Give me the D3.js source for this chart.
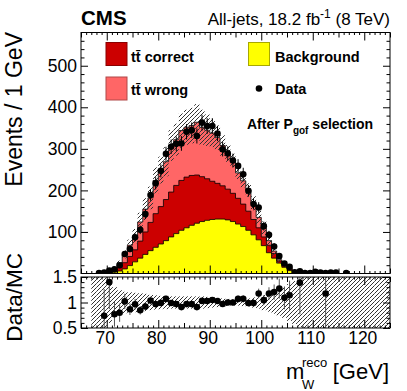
<!DOCTYPE html>
<html>
<head>
<meta charset="utf-8">
<script src="https://cdn.jsdelivr.net/npm/d3@7"></script>
<style>
body { margin: 0; background: #fff; }
text { font-family: "Liberation Sans", Arial, Helvetica, sans-serif; }
</style>
</head>
<body>
<svg width="407" height="391"></svg>
<script>
// MC bins, 1 GeV wide, low edges
var binLow = [67, 68, 69, 70, 71, 72, 73, 74, 75, 76, 77, 78, 79, 80, 81, 82, 83, 84, 85, 86, 87, 88, 89,
	90, 91, 92, 93, 94, 95, 96, 97, 98, 99, 100, 101, 102, 103, 104, 105, 106, 107, 108, 109, 110, 111, 112];
var background = [0, 0, 1, 2, 3.5, 6, 11, 19, 28, 37, 46, 55, 63, 71, 79, 88, 96, 104, 110, 116, 121, 125, 128,
	130, 131, 131, 129, 125, 119, 113, 104, 93, 81, 67, 50, 37, 25, 15, 7, 3, 1, 0, 0, 0, 0, 0.85];
var ttCorrect = [0, 0, 0.8, 1.5, 4, 8, 15, 22, 29, 41, 54, 68, 81, 90, 99, 108, 116, 120, 122, 120, 116, 108, 100,
	92, 86, 80, 74, 68, 62, 54, 46, 37, 29, 21, 18, 11, 5, 4, 4, 2, 1, 0, 0, 0, 0, 0];
var ttWrong = [0, 0, 0.9, 1.5, 5.5, 11, 20, 27, 33, 46, 55, 59, 80, 88, 91, 112, 110, 120, 120, 120, 127, 119, 117,
	116, 110, 97, 86, 79, 61, 56, 51, 39, 25, 21, 11, 6, 3, 3, 3, 2, 1.6, 0, 0, 0, 0, 0];
// relative MC uncertainty (bins past the list are drawn full)
var mcRelErr = [1, 1, 0.6, 0.4, 0.3, 0.24, 0.21, 0.2, 0.19, 0.18, 0.17, 0.15, 0.14, 0.13, 0.13, 0.12, 0.12,
	0.12, 0.12, 0.12, 0.12, 0.12, 0.11, 0.1, 0.09, 0.08, 0.07, 0.06, 0.06, 0.07, 0.08, 0.1, 0.12, 0.15, 0.18,
	0.22, 0.26, 0.3, 0.36, 0.42, 0.48];

var dataX = [68.5, 69.5, 70.5, 71.5, 72.5, 73.5, 74.5, 75.5, 76.5, 77.5, 78.5, 79.5, 80.5, 81.5, 82.5, 83.5,
	84.5, 85.5, 86.5, 87.5, 88.5, 89.5, 90.5, 91.5, 92.5, 93.5, 94.5, 95.5, 96.5, 97.5, 98.5, 99.5, 100.5,
	101.5, 102.5, 103.5, 104.5, 105.5, 106.5, 107.5, 108.5, 109.5, 110.5, 111.5, 112.5, 113.5, 114.5, 116.5];
var dataY = [1, 2, 7, 10, 20, 47, 59, 87, 105, 143, 189, 217, 247, 288, 305, 312,
	313, 341, 345, 331, 363, 355, 355, 337, 299, 289, 272, 259, 239, 199, 167, 159, 114,
	93, 65, 42, 24, 16, 3, 5, 1, 1, 4, 2, 1, 2, 2, 1];

var xTicks = [70, 80, 90, 100, 110, 120];
var yTicks = [100, 200, 300, 400, 500];
var ratioTicks = [0.5, 1, 1.5];

var svg = d3.select('svg');
var padL = 81, padR = 390, mainTop = 32.5, mainBottom = 273.5, ratioTop = 277, ratioBottom = 328;

var x = d3.scaleLinear().domain([65, 125]).range([padL, padR]);
var y = d3.scaleLinear().domain([0, 580]).range([mainBottom, mainTop]);
var yr = d3.scaleLinear().domain([0.5, 1.5]).range([ratioBottom, ratioTop]);

var defs = svg.append('defs');
defs.append('pattern')
	.attr('id', 'hatch')
	.attr('patternUnits', 'userSpaceOnUse')
	.attr('width', 4).attr('height', 4)
	.append('path')
	.attr('d', 'M-1,1L1,-1M0,4L4,0M3,5L5,3')
	.attr('stroke', '#333')
	.attr('stroke-width', 1);
defs.append('clipPath').attr('id', 'clipMain').append('rect')
	.attr('x', padL).attr('y', mainTop).attr('width', padR - padL).attr('height', mainBottom - mainTop);
defs.append('clipPath').attr('id', 'clipRatio').append('rect')
	.attr('x', padL).attr('y', ratioTop).attr('width', padR - padL).attr('height', ratioBottom - ratioTop);

// stacked sums
var s1 = background.slice();
var s2 = background.map(function (v, i) { return v + ttCorrect[i]; });
var s3 = s2.map(function (v, i) { return v + ttWrong[i]; });

function steps(vals) {
	var pts = [];
	vals.forEach(function (v, i) {
		pts.push([binLow[i], v]);
		pts.push([binLow[i] + 1, v]);
	});
	return pts;
}

var area = d3.area()
	.x(function (d) { return x(d[0]); })
	.y0(y(0))
	.y1(function (d) { return y(d[1]); });
var line = d3.line()
	.x(function (d) { return x(d[0]); })
	.y(function (d) { return y(d[1]); });

var main = svg.append('g').attr('clip-path', 'url(#clipMain)');

[[s3, '#ff6666'], [s2, '#cc0000'], [s1, '#ffff00']].forEach(function (h) {
	main.append('path').attr('d', area(steps(h[0]))).attr('fill', h[1]);
});
[s3, s2, s1].forEach(function (h) {
	main.append('path').attr('d', line(steps(h))).attr('fill', 'none')
		.attr('stroke', '#000').attr('stroke-width', 0.8);
});

// MC uncertainty band
main.selectAll('rect.band')
	.data(binLow.filter(function (b, i) { return s3[i] > 0 && i < mcRelErr.length; }))
	.enter()
	.append('rect')
	.attr('class', 'band')
	.attr('x', function (b) { return x(b); })
	.attr('width', function (b) { return x(b + 1) - x(b); })
	.attr('y', function (b) {
		var i = binLow.indexOf(b);
		return y(s3[i] * (1 + mcRelErr[i]));
	})
	.attr('height', function (b) {
		var i = binLow.indexOf(b);
		return y(s3[i] * (1 - Math.min(mcRelErr[i], 1))) - y(s3[i] * (1 + mcRelErr[i]));
	})
	.attr('fill', 'url(#hatch)');

// data
var data = dataX.map(function (c, i) { return { x: c, y: dataY[i] }; });
main.selectAll('line.err')
	.data(data)
	.enter()
	.append('line')
	.attr('x1', function (d) { return x(d.x); })
	.attr('x2', function (d) { return x(d.x); })
	.attr('y1', function (d) { return y(d.y + Math.sqrt(d.y)); })
	.attr('y2', function (d) { return y(Math.max(0, d.y - Math.sqrt(d.y))); })
	.attr('stroke', '#000').attr('stroke-width', 1);
main.selectAll('circle.pt')
	.data(data)
	.enter()
	.append('circle')
	.attr('cx', function (d) { return x(d.x); })
	.attr('cy', function (d) { return y(d.y); })
	.attr('r', 3.3)
	.attr('fill', '#000');

// ratio panel
var ratio = svg.append('g').attr('clip-path', 'url(#clipRatio)');
var bandBins = d3.range(67, 125);
function isFull(b) {
	var i = binLow.indexOf(b);
	return i < 0 || i >= mcRelErr.length || s3[i] === 0 || mcRelErr[i] >= 0.5;
}
ratio.selectAll('rect.rband')
	.data(bandBins)
	.enter()
	.append('rect')
	.attr('x', function (b) { return x(b); })
	.attr('width', function (b) { return x(b + 1) - x(b); })
	.attr('y', function (b) {
		return isFull(b) ? yr(1.5) : yr(1 + mcRelErr[binLow.indexOf(b)]);
	})
	.attr('height', function (b) {
		var r = mcRelErr[binLow.indexOf(b)];
		return isFull(b) ? yr(0.5) - yr(1.5) : yr(1 - r) - yr(1 + r);
	})
	.attr('fill', 'url(#hatch)');

var ratioPts = data.map(function (d) {
	var i = binLow.indexOf(d.x - 0.5);
	var mc = i < 0 ? 0 : s3[i];
	return mc > 0 ? { x: d.x, r: d.y / mc, e: Math.sqrt(d.y) / mc } : null;
}).filter(function (d) { return d && d.r >= 0.5 && d.r <= 1.5; });

ratio.selectAll('line.rerr')
	.data(ratioPts)
	.enter()
	.append('line')
	.attr('x1', function (d) { return x(d.x); })
	.attr('x2', function (d) { return x(d.x); })
	.attr('y1', function (d) { return yr(d.r + d.e); })
	.attr('y2', function (d) { return yr(d.r - d.e); })
	.attr('stroke', '#555').attr('stroke-width', 1);
ratio.selectAll('circle.rpt')
	.data(ratioPts)
	.enter()
	.append('circle')
	.attr('cx', function (d) { return x(d.x); })
	.attr('cy', function (d) { return yr(d.r); })
	.attr('r', 3.3)
	.attr('fill', '#000');

// axes
function clean(g, size) {
	g.select('.domain').remove();
	g.selectAll('text').style('font-size', size + 'px').style('font-family', '"Liberation Sans", Arial, sans-serif').attr('fill', '#000');
	g.selectAll('line').attr('stroke', '#000');
}
var minorY = d3.range(20, 580, 20).filter(function (v) { return v % 100 !== 0; });
var minorX = d3.range(66, 126, 1).filter(function (v) { return v % 5 !== 0; });
var midX = [65, 75, 85, 95, 105, 115, 125];

svg.append('g').attr('transform', 'translate(' + padL + ',0)')
	.call(d3.axisLeft(y).tickValues(yTicks).tickSize(-7).tickPadding(4))
	.call(clean, 17.5);
svg.append('g').attr('transform', 'translate(' + padL + ',0)')
	.call(d3.axisLeft(y).tickValues(minorY).tickSize(-3.5).tickFormat(''))
	.call(clean, 1);
svg.append('g').attr('transform', 'translate(' + padR + ',0)')
	.call(d3.axisRight(y).tickValues(yTicks).tickSize(-7).tickFormat(''))
	.call(clean, 1);
svg.append('g').attr('transform', 'translate(' + padR + ',0)')
	.call(d3.axisRight(y).tickValues(minorY).tickSize(-3.5).tickFormat(''))
	.call(clean, 1);

[[mainBottom, ratioBottom, d3.axisBottom], [mainTop, ratioTop, d3.axisTop]].forEach(function (p) {
	[p[0], p[1]].forEach(function (yy) {
		svg.append('g').attr('transform', 'translate(0,' + yy + ')')
			.call(p[2](x).tickValues(xTicks).tickSize(-8).tickFormat(''))
			.call(clean, 1);
		svg.append('g').attr('transform', 'translate(0,' + yy + ')')
			.call(p[2](x).tickValues(midX).tickSize(-5).tickFormat(''))
			.call(clean, 1);
		svg.append('g').attr('transform', 'translate(0,' + yy + ')')
			.call(p[2](x).tickValues(minorX).tickSize(-2.5).tickFormat(''))
			.call(clean, 1);
	});
});

svg.append('g').attr('transform', 'translate(-2,' + ratioBottom + ')')
	.call(d3.axisBottom(x).tickValues(xTicks).tickSize(0).tickPadding(4).tickFormat(d3.format('d')))
	.call(clean, 17.5);

var minorR = [0.6, 0.7, 0.8, 0.9, 1.1, 1.2, 1.3, 1.4];
svg.append('g').attr('transform', 'translate(' + padL + ',0)')
	.call(d3.axisLeft(yr).tickValues(ratioTicks).tickSize(-7).tickPadding(4).tickFormat(d3.format('')))
	.call(clean, 17.5);
svg.append('g').attr('transform', 'translate(' + padL + ',0)')
	.call(d3.axisLeft(yr).tickValues(minorR).tickSize(-3.5).tickFormat(''))
	.call(clean, 1);
svg.append('g').attr('transform', 'translate(' + padR + ',0)')
	.call(d3.axisRight(yr).tickValues(ratioTicks).tickSize(-7).tickFormat(''))
	.call(clean, 1);
svg.append('g').attr('transform', 'translate(' + padR + ',0)')
	.call(d3.axisRight(yr).tickValues(minorR).tickSize(-3.5).tickFormat(''))
	.call(clean, 1);

// frames
svg.append('rect').attr('x', padL).attr('y', mainTop).attr('width', padR - padL).attr('height', mainBottom - mainTop)
	.attr('fill', 'none').attr('stroke', '#000').attr('stroke-width', 1);
svg.append('rect').attr('x', padL).attr('y', ratioTop).attr('width', padR - padL).attr('height', ratioBottom - ratioTop)
	.attr('fill', 'none').attr('stroke', '#000').attr('stroke-width', 1);

// titles
svg.append('text')
	.attr('transform', 'translate(21.5,32) rotate(-90)')
	.attr('text-anchor', 'end')
	.style('font-size', '23px')
	.text('Events / 1 GeV');
svg.append('text')
	.attr('transform', 'translate(21.5,253) rotate(-90)')
	.attr('text-anchor', 'end')
	.style('font-size', '22.5px')
	.text('Data/MC');

var xt = svg.append('g');
xt.append('text').attr('x', 286).attr('y', 379).style('font-size', '22px').text('m');
xt.append('text').attr('x', 302).attr('y', 389).style('font-size', '13px').text('W');
xt.append('text').attr('x', 302).attr('y', 367).style('font-size', '13px').text('reco');
xt.append('text').attr('x', 389).attr('y', 379).attr('text-anchor', 'end').style('font-size', '22px').text('[GeV]');

svg.append('text').attr('x', 81).attr('y', 25)
	.style('font-size', '20.5px').style('font-weight', 'bold').text('CMS');
var lumi = svg.append('text').attr('x', 390).attr('y', 25).attr('text-anchor', 'end').style('font-size', '17px');
lumi.append('tspan').text('All-jets, 18.2 fb');
lumi.append('tspan').attr('dy', -7).style('font-size', '12px').text('-1');
lumi.append('tspan').attr('dy', 7).text(' (8 TeV)');

// legend
var legendItems = [
	{ label: 't\u0074\u0304 correct', color: '#cc0000', stroke: '#8a0000', bx: 106, by: 42.5, tx: 131, ty: 62 },
	{ label: 't\u0074\u0304 wrong', color: '#ff6666', stroke: '#b04848', bx: 106, by: 77, tx: 131, ty: 95 },
	{ label: 'Background', color: '#ffff00', stroke: '#a8a800', bx: 248.5, by: 42.5, tx: 275, ty: 61.5 }
];
legendItems.forEach(function (d) {
	svg.append('rect').attr('x', d.bx).attr('y', d.by).attr('width', 21).attr('height', 23)
		.attr('fill', d.color).attr('stroke', d.stroke).attr('stroke-width', 1);
	svg.append('text').attr('x', d.tx).attr('y', d.ty)
		.style('font-size', '14.5px').style('font-weight', 'bold').text(d.label);
});
svg.append('circle').attr('cx', 259).attr('cy', 88.5).attr('r', 3.3).attr('fill', '#000');
svg.append('text').attr('x', 275).attr('y', 94)
	.style('font-size', '14.5px').style('font-weight', 'bold').text('Data');

var sel = svg.append('text').attr('x', 247).attr('y', 129)
	.style('font-size', '14px').style('font-weight', 'bold');
sel.append('tspan').text('After P');
sel.append('tspan').attr('dy', 5).style('font-size', '10px').text('gof');
sel.append('tspan').attr('dy', -5).text(' selection');
</script>
</body>
</html>
